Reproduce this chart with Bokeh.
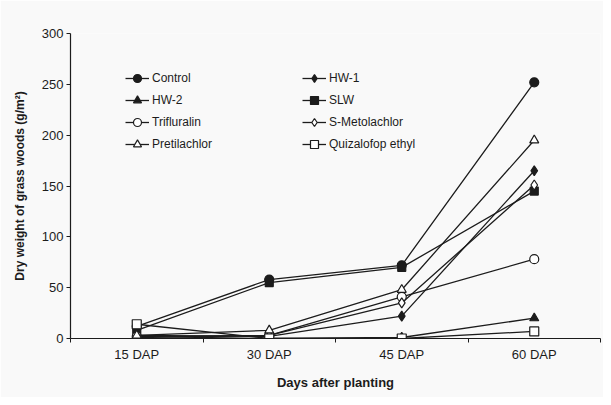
from bokeh.plotting import figure
from bokeh.models import Legend, LegendItem, FixedTicker, Range1d
from bokeh.embed import file_html
from bokeh.resources import INLINE

days = [1, 2, 3, 4]
day_labels = ["15 DAP", "30 DAP", "45 DAP", "60 DAP"]
y_ticks = [0, 50, 100, 150, 200, 250, 300]

control = [12, 58, 72, 252]
hw1 = [3, 2, 22, 165]
hw2 = [2, 0, 1, 20]
slw = [8, 55, 70, 145]
trifluralin = [2, 3, 41, 78]
s_metolachlor = [1, 3, 35, 151]
pretilachlor = [3, 8, 48, 195]
quizalofop = [14, 0, 0, 7]

FONT = "Liberation Sans"
INK = "#1c1c1c"
BG = "#f9f9f9"

p = figure(width=603, height=397, output_backend="svg", toolbar_location=None,
           x_range=Range1d(0.5, 4.5), y_range=Range1d(0, 300),
           min_border_left=70, min_border_right=3, min_border_top=33, min_border_bottom=59)
p.outline_line_color = None
p.xgrid.visible = False
p.ygrid.visible = False
p.background_fill_color = BG
p.border_fill_color = BG

series = [
    ("Control", control, "circle", INK, 9),
    ("HW-1", hw1, "diamond", INK, 10),
    ("HW-2", hw2, "triangle", INK, 9),
    ("SLW", slw, "square", INK, 8),
    ("Trifluralin", trifluralin, "circle", "white", 9),
    ("S-Metolachlor", s_metolachlor, "diamond", "white", 10),
    ("Pretilachlor", pretilachlor, "triangle", "white", 9),
    ("Quizalofop ethyl", quizalofop, "square", "white", 9),
]

items = []
for name, vals, marker, fill, size in series:
    l = p.line(days, vals, line_color=INK, line_width=1.3)
    s = p.scatter(days, vals, marker=marker, size=size, fill_color=fill,
                  line_color=INK, line_width=1.2)
    items.append(LegendItem(label=name, renderers=[l, s]))

left_items = [items[0], items[2], items[4], items[6]]
right_items = [items[1], items[3], items[5], items[7]]

for its, loc in ((left_items, (55, 184)), (right_items, (232, 184))):
    lg = Legend(items=its, location=loc, orientation="vertical",
                background_fill_alpha=0, border_line_color=None,
                padding=0, margin=0, spacing=2, label_height=20, glyph_height=20,
                glyph_width=24, label_standoff=3,
                label_text_font=FONT, label_text_font_size="12px",
                label_text_color=INK)
    p.add_layout(lg)

xa = p.xaxis[0]
xa.ticker = FixedTicker(ticks=days, minor_ticks=[0.5, 1.5, 2.5, 3.5, 4.5])
xa.major_label_overrides = {d: lab for d, lab in zip(days, day_labels)}
xa.major_tick_out = 0
xa.major_tick_in = 0
xa.minor_tick_out = 4
xa.minor_tick_in = 0
xa.minor_tick_line_color = INK
xa.major_label_standoff = 4
xa.axis_label = "Days after planting"
xa.axis_label_standoff = 10

ya = p.yaxis[0]
ya.ticker = FixedTicker(ticks=y_ticks)
ya.minor_tick_out = 0
ya.minor_tick_in = 0
ya.major_tick_out = 4
ya.major_tick_in = 0
ya.major_label_standoff = 3
ya.axis_label = "Dry weight of grass woods (g/m²)"
ya.axis_label_standoff = 12

for ax in (xa, ya):
    ax.axis_line_color = INK
    ax.axis_line_width = 1.2
    ax.major_tick_line_color = INK
    ax.major_label_text_font = FONT
    ax.major_label_text_font_size = "13px"
    ax.major_label_text_color = INK
    ax.axis_label_text_font = FONT
    ax.axis_label_text_font_style = "bold"
    ax.axis_label_text_color = INK
xa.axis_label_text_font_size = "13px"
ya.axis_label_text_font_size = "12px"

open("out.html", "w").write(file_html(p, INLINE))
